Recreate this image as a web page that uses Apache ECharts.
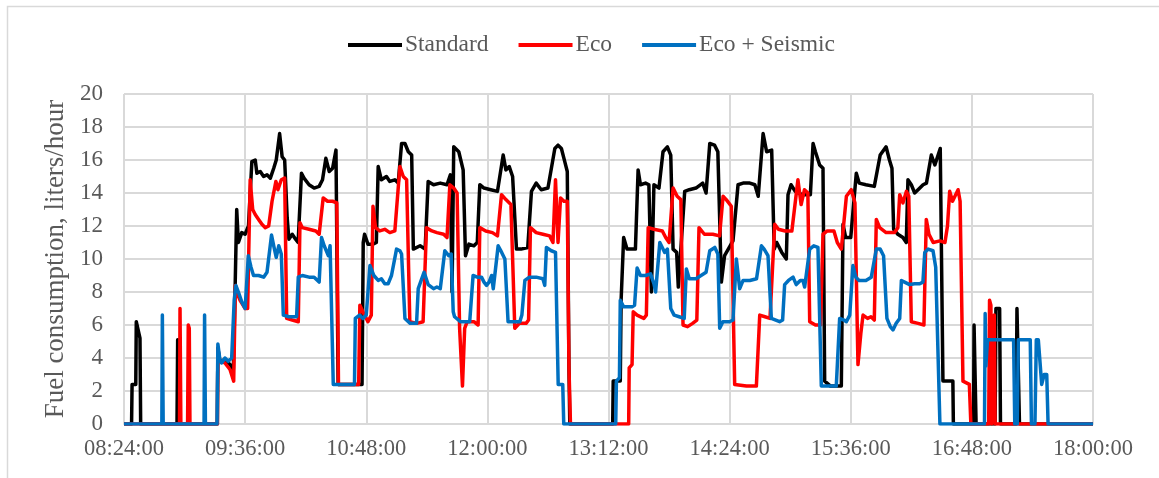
<!DOCTYPE html>
<html>
<head>
<meta charset="utf-8">
<script src="https://cdn.jsdelivr.net/npm/echarts@6/dist/echarts.min.js"></script>
<style>
  html, body { margin: 0; padding: 0; background: #fff; }
  #chart { width: 1159px; height: 478px; }
</style>
</head>
<body>
<div id="chart"></div>
<script>
// times are minutes after 08:24:00, values are liters/hour
var startMinute = 8 * 60 + 24;
var endMinute = 18 * 60;
var tickStep = 72;

var standard = [
    [0,0],[4.5,0],[4.8,2.4],[7,2.4],[7.3,6.2],[9.5,5.2],[9.9,0],
    [31.5,0],[31.9,5.1],[32.3,0],
    [55.5,0],[55.8,4.6],[57,3.8],[60,3.9],[63,3.6],[65,3.3],[66,8.0],[67,13.0],[68,11.0],[70,11.6],[72,11.5],[74,12.0],
    [76,15.9],[78,16.0],[79,15.2],[81,15.3],[83,15.0],[85,15.1],[87,14.9],[89,15.5],[90.5,16.0],[92.5,17.6],[94,16.2],[95.5,16.0],
    [97,12.5],[98,11.2],[100,11.5],[102,11.2],[103.5,11.0],[105.5,15.2],[107,14.9],[110,14.5],[113,14.3],[116,14.4],[118,14.8],
    [120,16.1],[122,15.3],[124,15.5],[126,16.6],[127.3,2.4],[136,2.4],[141.5,2.4],
    [142.2,11.0],[143,11.5],[145,10.9],[148,10.9],[150,11.0],[151.1,15.6],[153,14.8],[156,15.0],[158,14.7],[161,14.8],[163,14.6],
    [165,17.0],[167,17.0],[169,16.5],[171,16.3],[172,10.6],[176,10.8],[179,10.6],[180.8,14.7],[184,14.5],[188,14.6],[192,14.5],
    [194,15.1],[195,8.0],[196,16.8],[199,16.5],[201.6,15.4],[203,10.2],[205,10.9],[208,10.8],[210,11.0],[211.5,14.5],[214,14.3],
    [218,14.2],[222,14.1],[225.4,16.3],[227,15.4],[229,15.6],[231,15.0],[233.3,10.6],[236,10.6],[240,10.7],[242.2,14.1],[245,14.6],
    [248,14.2],[252,14.3],[256.1,16.7],[258,16.9],[260,16.7],[262,15.9],[263.5,15.3],[264.5,3.4],[265,0],
    [290.5,0],[290.8,2.6],[295,2.6],[295.5,7.5],[297,11.3],[299,10.6],[304,10.6],[305.6,15.4],[307,14.5],[310,14.6],[312,14.5],
    [313.5,8.0],[315,14.5],[318,14.3],[320.4,16.5],[323,16.8],[325,16.3],[326.4,10.6],[328.5,10.4],[329.5,8.3],[333.3,14.1],
    [336,14.2],[340,14.3],[344,14.6],[346,14.0],[348.2,17.0],[351,16.9],[353,16.5],[355.1,8.6],[357,10.2],[362,11.1],[365,14.5],
    [368,14.6],[372,14.6],[375,14.5],[377,13.8],[379.9,17.6],[382,16.5],[385,16.6],[386.5,10.6],[388,11.0],[391,10.4],[393.7,10.0],
    [394.7,13.9],[396.5,14.5],[399,14.1],[403,13.9],[408,13.9],[409.6,17.0],[411,16.5],[413.5,15.7],[415.5,15.5],[416.5,2.6],
    [420,2.3],[426.4,2.3],[427.4,12.1],[429,11.3],[432,11.3],[435.3,15.2],[437,14.6],[441,14.5],[446,14.4],[449.5,16.3],[453,16.8],
    [455,16.0],[456.5,15.5],[457.5,11.8],[460,11.5],[463,11.3],[465,11.0],[466,14.8],[468,14.5],[470,14.0],[472,14.2],[475,14.5],
    [477,14.6],[479.9,16.3],[482,15.7],[485.2,16.7],[486.8,2.6],[492.7,2.6],[493,0],
    [505,0],[505.3,6.0],[506,6.0],[506.5,0],
    [517.8,0],[518.3,7.0],[520.5,7.0],[521,0],
    [530.3,0],[530.8,7.0],[531.8,7.0],[532.3,0],[576,0]
];

var eco = [
    [0,0],[33,0],[33.3,7.0],[33.8,0],[37.8,0],[38.2,6.0],[38.8,5.8],[39.2,0],
    [55.5,0],[55.8,4.5],[57,3.8],[60,3.7],[63,3.3],[65.2,2.6],[66.2,8.4],[67,8.0],[69,7.5],[72,7.0],[73.5,7.0],
    [75,14.8],[76.5,13.0],[78,12.7],[80,12.4],[82,12.1],[84,11.9],[86,12.0],[88,13.5],[90.3,14.7],[91.5,14.2],[93.5,14.8],
    [95.5,14.9],[96.7,6.4],[100,6.3],[103.6,6.2],[104.6,12.2],[106,11.9],[110,11.8],[114,11.7],[116,11.5],[118.4,13.7],[121,13.5],
    [124,13.5],[126.5,13.4],[127.5,2.4],[139.5,2.4],[140.2,7.2],[142,6.8],[145,6.2],[147,6.6],[148,13.2],[149.5,11.9],[152,11.7],
    [155,11.8],[158,11.6],[161,11.7],[164,15.6],[166,15.0],[168,14.8],[169.9,6.2],[174,6.1],[177.8,6.2],[179.8,11.9],[183,11.7],
    [186,11.6],[190,11.5],[192,11.3],[193.7,14.5],[196,14.3],[198,14.0],[199.5,5.8],[201.2,2.3],[202.5,5.8],[204,6.2],[208,6.2],
    [210.5,6.0],[211.5,11.9],[215,11.7],[219,11.6],[222,11.4],[224.4,13.9],[227,13.6],[230,13.3],[232.3,5.8],[235,6.1],[239,6.1],
    [240.5,6.3],[241.6,11.9],[245,11.6],[249,11.5],[253,11.4],[255,11.0],[256.5,14.8],[258,11.0],[259.5,13.7],[261.5,13.5],
    [263.5,13.5],[264.5,3.4],[265,3.4],[265.4,0],
    [300,0],[300.3,3.4],[302,3.6],[302.7,6.8],[305,6.6],[309,6.4],[310.5,6.6],[311.6,11.9],[315,11.8],[320,11.7],[322,11.3],
    [324,11.0],[326.4,14.3],[328.8,13.8],[331,13.6],[332.3,6.0],[335,5.9],[338,6.1],[340.5,6.3],[341.8,11.9],[345,11.5],[350,11.5],
    [354,11.4],[356.1,13.8],[358,13.6],[361,13.2],[363,2.4],[370,2.3],[375.9,2.3],[377.9,6.6],[381,6.5],[384,6.4],[386.8,12.1],
    [389,11.8],[393,11.7],[397,11.7],[400.6,14.8],[402.5,13.3],[404.5,14.2],[406.5,14.0],[407.6,6.2],[411,6.0],[414,6.0],
    [415.5,11.5],[418,11.7],[422,11.7],[424,11.0],[426.4,10.6],[429.4,13.8],[432.3,14.2],[434.5,13.4],[436.3,3.6],[438,5.5],
    [439.3,6.6],[442,6.4],[444,6.5],[446,6.3],[447.2,12.4],[449.2,11.9],[453,11.6],[458,11.6],[460,11.9],[461.1,13.9],[463,13.4],
    [465.1,14.1],[466.5,13.8],[468,6.2],[472,6.1],[475.5,6.0],[476.9,12.4],[478.5,11.5],[481,11.0],[485,11.1],[488,11.0],
    [489.5,12.0],[490.8,14.1],[492.5,13.5],[495.8,14.2],[497,13.5],[498.7,2.6],[502.5,2.4],[503.4,0],
    [514,0],[514.5,7.5],[515.3,7.2],[515.8,0],[516.8,0],[517.3,6.6],[517.8,0],[576,0]
];

var ecoSeismic = [
    [0,0],[22.5,0],[22.8,6.6],[23.3,0],[47.6,0],[47.9,6.6],[48.4,0],
    [55.3,0],[55.8,4.85],[57,3.9],[58,3.7],[60,4.0],[62,3.8],[64,4.0],[65.5,7.5],[66.5,8.4],[68,8.0],[70,7.4],[72,7.0],[73,6.9],
    [73.9,10.2],[75.5,9.5],[77,9.0],[80,9.0],[83,8.9],[85,9.2],[87.7,11.45],[89,10.8],[90.5,10.1],[92,10.8],[93.5,10.3],[94.7,6.6],
    [98,6.5],[102.6,6.5],[103.6,8.9],[106,9.0],[110,8.9],[113,8.9],[116,8.6],[117.4,11.3],[119,10.8],[121.5,10.2],[122.5,10.8],
    [124.4,2.4],[137,2.4],[137.5,6.4],[140,6.6],[142,6.4],[144,6.6],[146.2,9.6],[148.5,9.0],[151.1,8.7],[153,8.8],[155,8.5],
    [157,8.5],[159,9.0],[162,10.6],[164,10.5],[165,10.3],[167,6.4],[170,6.1],[173.9,6.1],[174.9,8.2],[178.4,9.2],[180.8,8.45],
    [184,8.2],[186,8.3],[188,8.2],[190.7,10.5],[193,10.2],[194.5,10.3],[195.7,6.8],[196.5,6.5],[200,6.2],[205.5,6.2],[207.5,9.0],
    [210,8.9],[212.5,8.9],[214,8.6],[215.5,8.4],[217,8.6],[218.5,9.0],[219.5,8.2],[222.4,10.8],[224.5,10.4],[226.4,10.0],
    [228.3,6.2],[232,6.2],[235.3,6.2],[236.5,6.6],[238.3,8.7],[241,8.9],[245,8.9],[249,8.8],[250.1,8.4],[251.1,10.7],[254,10.5],
    [256.5,10.4],[258.1,2.4],[260.8,2.4],[261.4,0],
    [292.3,0],[292.7,2.6],[294.5,2.8],[295,7.5],[297,7.1],[302,7.1],[303.5,7.2],[305,9.45],[307,9.0],[310,9.0],[313,9.1],
    [315,8.5],[316,8.0],[318.5,11.0],[321.4,10.4],[323,10.6],[325,7.0],[327,6.6],[330,6.5],[333,6.4],[334.3,9.4],[336,8.8],
    [340,8.8],[343,9.0],[346,9.2],[348.2,10.5],[351.2,10.7],[353,10.3],[354.1,5.8],[356,6.2],[360,6.2],[362,6.3],[364,10.0],
    [366,8.2],[368,8.7],[372,8.7],[376,8.8],[378.9,10.8],[380.5,10.6],[382.8,10.2],[384.8,6.4],[389.7,6.2],[391.5,6.3],
    [392.7,8.45],[395,8.7],[397.7,8.9],[399.6,8.45],[402,8.7],[403.6,8.7],[404.6,8.3],[407.6,10.6],[410,10.8],[412.5,10.7],
    [414.5,2.3],[420,2.3],[423.4,2.3],[425.4,6.4],[428,6.3],[429.4,6.2],[431.4,6.6],[433.3,9.6],[435,8.9],[437,8.7],[441,8.7],
    [444.2,8.9],[447.2,10.6],[449.5,10.6],[451.5,10.2],[453.5,6.4],[455.5,5.9],[457.1,5.7],[459,6.1],[461.1,6.4],[462.1,8.7],
    [464,8.6],[467,8.45],[470,8.5],[473,8.5],[474.9,8.6],[476,10.4],[478,10.6],[480.9,10.5],[482.5,9.5],[485,0],
    [511.5,0],[511.9,6.7],[512.3,3.5],[513.3,5.1],[520,5.1],[528.8,5.1],[529.5,0],[531,0],[531.6,5.1],[538.7,5.1],[539.4,0],
    [541.5,0],[542.3,5.1],[543.5,5.1],[545.5,2.4],[547,3.0],[548.5,3.0],[549.3,0],[576,0]
];

var seriesNames = ['Standard', 'Eco', 'Eco + Seismic'];
var seriesColors = ['#000000', '#ff0000', '#0070c0'];

function pad(n){
    return (n < 10 ? '0' : '') + n;
}

function clockLabel(minute){
    return pad(Math.floor(minute / 60)) + ':' + pad(minute % 60) + ':00';
}

function toPoints(list){
    return list.map(function(p){
        return [startMinute + p[0], p[1]];
    });
}

var chart = echarts.init(document.getElementById('chart'));
var font = 'Liberation Serif, Times New Roman, serif';

var series = [standard, eco, ecoSeismic].map(function(list, i){
    return {
        name: seriesNames[i],
        type: 'line',
        data: toPoints(list),
        showSymbol: false,
        symbol: 'none',
        lineStyle: {color: seriesColors[i], width: 3.5, join: 'round'},
        itemStyle: {color: seriesColors[i]},
        z: 2 + i
    };
});

var option = {
    backgroundColor: '#ffffff',
    animation: false,
    graphic: [{
        type: 'rect',
        shape: {x: 7.5, y: 6.5, width: 1200, height: 500},
        style: {fill: 'none', stroke: '#d9d9d9', lineWidth: 1.5},
        silent: true
    }],
    legend: {
        top: 28,
        left: 343,
        itemWidth: 54,
        itemHeight: 4,
        itemGap: 30,
        icon: 'rect',
        data: seriesNames,
        textStyle: {fontFamily: font, fontSize: 23.5, color: '#595959', padding: [0, 0, 0, -2]}
    },
    grid: {left: 124, right: 66, top: 94, bottom: 54, containLabel: false},
    xAxis: {
        type: 'value',
        min: startMinute,
        max: endMinute,
        interval: tickStep,
        axisLine: {show: true, lineStyle: {color: '#d9d9d9', width: 2}},
        axisTick: {show: false},
        splitLine: {show: true, lineStyle: {color: '#d9d9d9', width: 2}},
        axisLabel: {
            margin: 14,
            fontFamily: font,
            fontSize: 22.5,
            color: '#595959',
            formatter: function(v){ return clockLabel(v); }
        }
    },
    yAxis: {
        type: 'value',
        min: 0,
        max: 20,
        interval: 2,
        name: 'Fuel consumption, liters/hour',
        nameLocation: 'middle',
        nameGap: 50,
        nameTextStyle: {fontFamily: font, fontSize: 27, color: '#595959'},
        axisLine: {show: false},
        axisTick: {show: false},
        splitLine: {show: true, lineStyle: {color: '#d9d9d9', width: 2}},
        axisLabel: {margin: 21, fontFamily: font, fontSize: 23, color: '#595959'}
    },
    series: series
};

chart.setOption(option);
</script>
</body>
</html>
